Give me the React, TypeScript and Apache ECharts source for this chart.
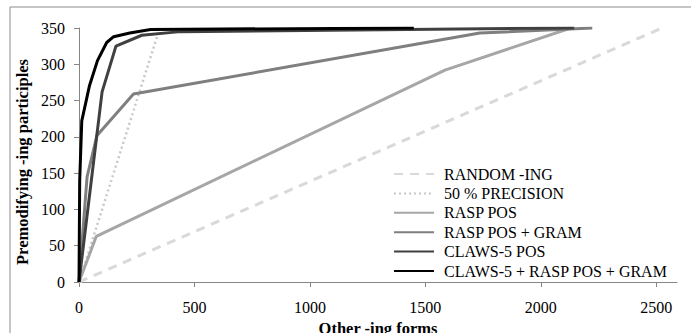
import React, { useEffect, useRef } from "react";
import * as echarts from "echarts";

const seriesNames = [
  "RANDOM -ING",
  "50 % PRECISION",
  "RASP POS",
  "RASP POS + GRAM",
  "CLAWS-5 POS",
  "CLAWS-5 + RASP POS + GRAM",
];

const randomX = [0, 2525];
const randomY = [0, 350];

const precisionX = [0, 350];
const precisionY = [0, 350];

const raspX = [0, 75, 1585, 2130];
const raspY = [0, 63, 292, 350];

const raspGramX = [0, 35, 78, 236, 1736, 2223];
const raspGramY = [0, 145, 202, 259, 343, 350];

const clawsX = [0, 100, 160, 272, 438, 2145];
const clawsY = [0, 262, 325, 340, 345, 350];

const allX = [0, 3, 12, 45, 80, 120, 150, 220, 310, 1450];
const allY = [0, 140, 222, 270, 305, 330, 338, 343, 348, 350];

const xTicks = [0, 500, 1000, 1500, 2000, 2500];

const xTitle = "Other -ing forms";
const yTitle = "Premodifying -ing participles";

const FONT = "Liberation Serif";

function pairs(xs: number[], ys: number[]) {
  return xs.map((x, i) => [x, ys[i]]);
}

export default function App() {
  const ref = useRef<HTMLDivElement>(null);
  useEffect(() => {
    document.body.style.margin = "0";
    const chart = echarts.init(ref.current!, null, { renderer: "svg", width: 691, height: 333 });
    const mk = (name: string, xs: number[], ys: number[], color: string, width: number, type: any) => ({
      name,
      type: "line",
      data: pairs(xs, ys),
      symbol: "none",
      showSymbol: false,
      lineStyle: { color, width, type },
      itemStyle: { color },
      emphasis: { disabled: true },
    });
    chart.setOption({
      animation: false,
      graphic: [
        {
          type: "rect",
          shape: { x: 10, y: 7, width: 720, height: 400 },
          style: { fill: "none", stroke: "#8c8c8c", lineWidth: 1 },
          silent: true,
        },
        {
          type: "text",
          x: 22,
          y: 162,
          rotation: Math.PI / 2,
          silent: true,
          style: {
            text: yTitle,
            fontFamily: FONT,
            fontSize: 16.5,
            fontWeight: "bold",
            fill: "#000",
            align: "center",
            verticalAlign: "middle",
          },
        },
      ],
      grid: { left: 79, right: 14, top: 28, bottom: 51, containLabel: false, outerBoundsMode: "none" },
      legend: {
        orient: "vertical",
        left: 388,
        top: 161,
        itemWidth: 40,
        itemHeight: 14,
        itemGap: 3.4,
        data: seriesNames,
        itemStyle: { opacity: 0 },
        textStyle: { fontFamily: FONT, fontSize: 16, color: "#000", padding: [0, 0, 0, 5] },
      },
      xAxis: {
        type: "value",
        min: 0,
        max: 2590,
        interval: 500,
        name: xTitle,
        nameLocation: "middle",
        nameGap: 35,
        nameTextStyle: { fontFamily: FONT, fontSize: 16.5, fontWeight: "bold", color: "#000" },
        axisLine: { show: true, lineStyle: { color: "#868686", width: 1 } },
        axisTick: { show: true, length: 5, lineStyle: { color: "#868686" }, customValues: xTicks },
        axisLabel: {
          fontFamily: FONT,
          fontSize: 16,
          color: "#000",
          margin: 17,
          customValues: xTicks,
          formatter: (v: number) => String(v),
        },
        splitLine: { show: false },
      },
      yAxis: {
        type: "value",
        min: 0,
        max: 350,
        interval: 50,
        axisLine: { show: true, lineStyle: { color: "#868686", width: 1 } },
        axisTick: { show: true, length: 5, lineStyle: { color: "#868686" } },
        axisLabel: {
          fontFamily: FONT,
          fontSize: 16,
          color: "#000",
          margin: 14,
          formatter: (v: number) => String(v),
        },
        splitLine: { show: false },
      },
      series: [
        mk(seriesNames[0], randomX, randomY, "#d9d9d9", 3, [9, 7]),
        mk(seriesNames[1], precisionX, precisionY, "#c8c8c8", 2.5, [2, 3]),
        mk(seriesNames[2], raspX, raspY, "#a6a6a6", 3, "solid"),
        mk(seriesNames[3], raspGramX, raspGramY, "#7f7f7f", 3, "solid"),
        mk(seriesNames[4], clawsX, clawsY, "#404040", 3, "solid"),
        mk(seriesNames[5], allX, allY, "#000000", 3, "solid"),
      ],
    });
    return () => chart.dispose();
  }, []);
  return <div ref={ref} style={{ position: "absolute", left: 0, top: 0, width: 691, height: 333 }} />;
}
